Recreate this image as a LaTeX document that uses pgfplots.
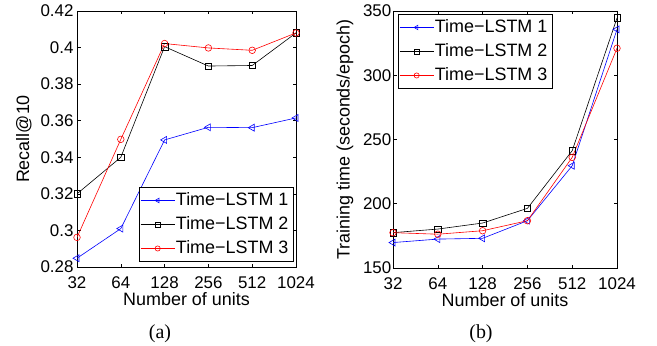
\documentclass[border=0pt]{standalone}
\usepackage{fontspec}
\setmainfont{Liberation Sans}
\newfontfamily\capfont{Liberation Serif}
\usepackage{pgfplots}
\pgfplotsset{compat=1.18}
\pgfplotsset{
  tlstm/.style={
    scale only axis,
    xmin=0, xmax=5,
    xtick={0,1,2,3,4,5},
    xticklabels={32,64,128,256,512,1024},
    xtick pos=both, ytick pos=both,
    tick align=inside,
    major tick length=3.5bp,
    axis line style={line width=0.8bp},
    every tick/.style={black, line width=0.6bp},
    tick label style={font=\fontsize{17}{20}\selectfont},
    xticklabel style={anchor=base, yshift=-21.5bp},
    label style={font=\fontsize{18}{21}\selectfont},
    /pgf/number format/assume math mode=true,
    legend cell align=left,
    legend style={font=\fontsize{18}{21}\selectfont, draw=black, line width=0.8bp,
      inner sep=1bp,
      nodes={text height=13bp, text depth=3bp, inner sep=4bp},
      /tikz/every odd column/.append style={column sep=-3bp}},
    legend image code/.code={
      \draw[mark repeat=2,mark phase=2,mark size=2.6bp] plot coordinates {(0bp,0bp) (17bp,0bp) (34bp,0bp)};
    },
  },
  s1/.style={blue, line width=0.6bp, mark=triangle, mark size=4bp, mark options={rotate=90, solid}},
  s2/.style={black, line width=0.6bp, mark=square, mark size=3.2bp, mark options={solid}},
  s3/.style={red, line width=0.6bp, mark=o, mark size=3.3bp, mark options={solid}},
}
\begin{document}
\begin{tikzpicture}[x=1bp,y=1bp]
\useasboundingbox (0,0) rectangle (657,345);
\begin{axis}[tlstm,
  at={(77bp,78bp)}, anchor=south west,
  width=219bp, height=256bp,
  ymin=0.28, ymax=0.42,
  ytick={0.28,0.3,0.32,0.34,0.36,0.38,0.4,0.42},
  ylabel={Recall@10},
  xlabel={Number of units},
  xlabel style={at={(axis description cs:0.5,-0.1523)}, anchor=base},
  ylabel style={at={(axis description cs:-0.2425,0.5)}, anchor=center, rotate=0},
  legend style={at={(axis description cs:0.99,0.02)}, anchor=south east},
]
\addplot[s1] coordinates {(0,0.2848) (1,0.3010) (2,0.3495) (3,0.3564) (4,0.3562) (5,0.3615)};
\addplot[s2] coordinates {(0,0.3200) (1,0.3400) (2,0.4005) (3,0.3899) (4,0.3902) (5,0.4080)};
\addplot[s3] coordinates {(0,0.2962) (1,0.3498) (2,0.4022) (3,0.3998) (4,0.3985) (5,0.4080)};
\legend{Time−LSTM 1, Time−LSTM 2, Time−LSTM 3}
\end{axis}
\begin{axis}[tlstm,
  at={(393bp,77bp)}, anchor=south west,
  width=224bp, height=257bp,
  ymin=150, ymax=350,
  ytick={150,200,250,300,350},
  yticklabel style={inner xsep=1.5bp},
  ylabel={Training time (seconds/epoch)},
  xlabel={Number of units},
  xlabel style={at={(axis description cs:0.5,-0.148)}, anchor=base},
  ylabel style={at={(axis description cs:-0.214,0.5)}, anchor=center, rotate=0},
  legend style={at={(axis description cs:0.022,0.988)}, anchor=north west},
]
\addplot[s1] coordinates {(0,169.8) (1,172.5) (2,173.1) (3,186.8) (4,229.6) (5,335.7)};
\addplot[s2] coordinates {(0,177.5) (1,180.3) (2,185.0) (3,196.4) (4,241.3) (5,344.6)};
\addplot[s3] coordinates {(0,177.5) (1,176.3) (2,179.0) (3,186.8) (4,236.1) (5,321.0)};
\legend{Time−LSTM 1, Time−LSTM 2, Time−LSTM 3}
\end{axis}
\node[font=\capfont\fontsize{20}{24}\selectfont, anchor=center] at (160,11.7) {(a)};
\node[font=\capfont\fontsize{20}{24}\selectfont, anchor=center] at (481,11.7) {(b)};
\end{tikzpicture}
\end{document}
